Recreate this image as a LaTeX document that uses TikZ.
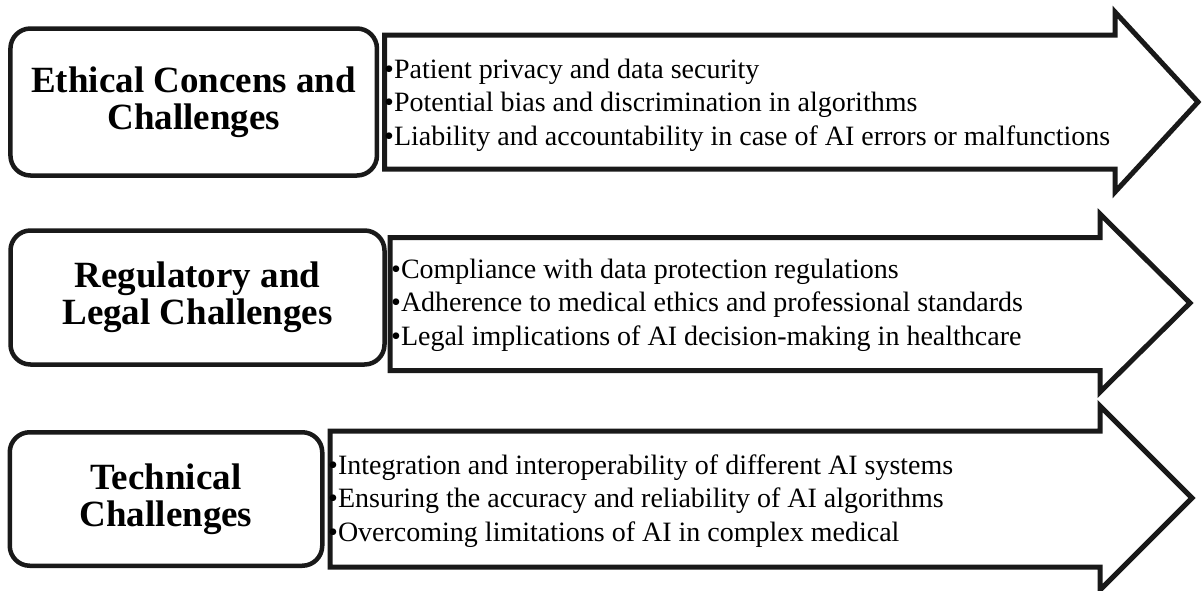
\documentclass[tikz,border=0pt]{standalone}
\usepackage{fontspec}
\setmainfont{Liberation Serif}
\usepackage{tikz}
\usetikzlibrary{positioning}

\begin{document}
\begin{tikzpicture}[x=1pt, y=-1pt,
    titlebox/.style={draw=black!90, line width=4.5pt, rounded corners=20pt, align=center,
        inner sep=0pt, font={\fontsize{37}{37}\selectfont\bfseries}},
    itemtext/.style={anchor=base west, align=left, inner sep=0pt,
        font={\fontsize{28}{33.5}\selectfont}},
    bigarrow/.style={draw=black!90, line width=5pt, line join=miter}]
    \useasboundingbox (0,0) rectangle (1203,590);
    % ethical
    \draw[bigarrow] (384.5,35) -- (1115,35) -- (1115,12) -- (1198,102) -- (1115,192) -- (1115,169) -- (384.5,169) -- cycle;
    \node[titlebox, minimum width=366.5pt, minimum height=147pt] (ethic) at (193.7,102) {Ethical Concens and\\Challenges};
    \node[itemtext] (ethiclist) at (384,145) {\textbullet Patient privacy and data security\\
        \textbullet Potential bias and discrimination in algorithms\\
        \textbullet Liability and accountability in case of AI errors or malfunctions};
    % regulatory
    \draw[bigarrow] (390,237.5) -- (1100,237.5) -- (1100,214) -- (1190,303) -- (1100,392) -- (1100,370.5) -- (390,370.5) -- cycle;
    \node[titlebox, minimum width=374pt, minimum height=134pt] (legal) at (197.5,297.5) {Regulatory and\\Legal Challenges};
    \node[itemtext] (legallist) at (391,345) {\textbullet Compliance with data protection regulations\\
        \textbullet Adherence to medical ethics and professional standards\\
        \textbullet Legal implications of AI decision-making in healthcare};
    % technical
    \draw[bigarrow] (330,431) -- (1100,431) -- (1100,406) -- (1192,498) -- (1100,590) -- (1100,567) -- (330,567) -- cycle;
    \node[titlebox, minimum width=312.5pt, minimum height=133.5pt] (tech) at (166,499) {Technical\\Challenges};
    \node[itemtext] (techlist) at (328,541) {\textbullet Integration and interoperability of different AI systems\\
        \textbullet Ensuring the accuracy and reliability of AI algorithms\\
        \textbullet Overcoming limitations of AI in complex medical};
\end{tikzpicture}
\end{document}
